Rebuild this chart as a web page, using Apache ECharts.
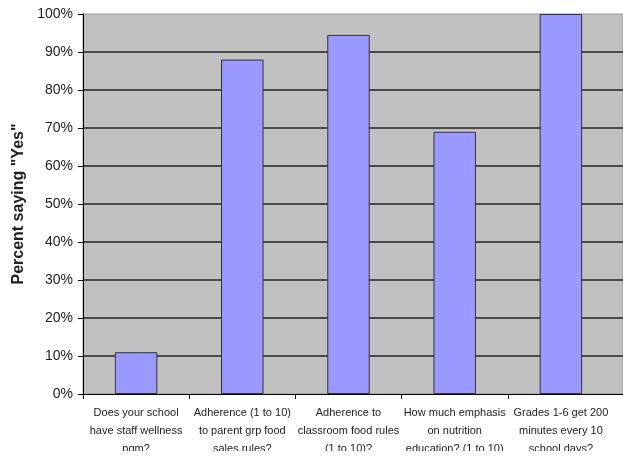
<!DOCTYPE html>
<html>
<head>
<meta charset="utf-8">
<script src="https://cdn.jsdelivr.net/npm/echarts@6/dist/echarts.min.js"></script>
<style>
html,body{margin:0;padding:0;background:#fff;}
#chart{width:623px;height:460px;}
</style>
</head>
<body>
<div id="chart"></div>
<script>
var categories = [
  "Does your school\nhave staff wellness\npgm?",
  "Adherence (1 to 10)\nto parent grp food\nsales rules?",
  "Adherence to\nclassroom food rules\n(1 to 10)?",
  "How much emphasis\non nutrition\neducation? (1 to 10)",
  "Grades 1-6 get 200\nminutes every 10\nschool days?"
];
var percentYes = [11, 88, 94.5, 69, 100];
var yTickMin = 0, yTickMax = 100, yTickStep = 10;
var yAxisTitle = 'Percent saying "Yes"';

var FONT = "'Liberation Sans', Arial, sans-serif";
var chart = echarts.init(document.getElementById('chart'), null, {renderer: 'canvas'});
chart.setOption({
  animation: false,
  backgroundColor: '#ffffff',
  grid: [
    {left: 83, right: -5, top: 14, bottom: 66, show: true,
     backgroundColor: '#C0C0C0', borderColor: '#999999', borderWidth: 1},
    {left: 83, right: 9, top: 14, bottom: 66}
  ],
  xAxis: [
    {gridIndex: 0, type: 'value', min: 0, max: 1, show: true,
     axisLine: {show: true, onZero: false, lineStyle: {color: '#000', width: 1}},
     axisTick: {show: false}, axisLabel: {show: false}, splitLine: {show: false}},
    {gridIndex: 1, type: 'category', data: categories,
     axisLine: {show: false},
     axisTick: {show: true, inside: false, length: 5, lineStyle: {color: '#000'}},
     axisLabel: {interval: 0, margin: 10, fontSize: 11, lineHeight: 18,
       color: '#222', fontFamily: FONT, align: 'center'}}
  ],
  yAxis: [
    {gridIndex: 0, type: 'value', min: yTickMin, max: yTickMax, interval: yTickStep,
     axisLine: {show: false}, axisTick: {show: false}, axisLabel: {show: false},
     splitLine: {show: true, showMaxLine: false, showMinLine: false,
       lineStyle: {color: '#222', width: 1.5}}},
    {gridIndex: 1, type: 'value', min: yTickMin, max: yTickMax, interval: yTickStep,
     axisLine: {show: true, lineStyle: {color: '#000', width: 1}},
     axisTick: {show: true, inside: false, length: 5, lineStyle: {color: '#000'}},
     splitLine: {show: false},
     axisLabel: {formatter: '{value}%', fontSize: 14, color: '#222', margin: 10, fontFamily: FONT},
     name: yAxisTitle, nameLocation: 'middle', nameRotate: 90, nameGap: 54,
     nameTextStyle: {fontSize: 16, fontWeight: 'bold', color: '#222', fontFamily: FONT}}
  ],
  series: [{
    type: 'bar', xAxisIndex: 1, yAxisIndex: 1, data: percentYes, barWidth: '40%',
    itemStyle: {color: '#9999FF', borderColor: '#333333', borderWidth: 1}
  }],
  graphic: [
    {type: 'rect', z: 100, silent: true,
     shape: {x: 0, y: 451, width: 623, height: 9}, style: {fill: '#ffffff'}},
    {type: 'rect', z: 100, silent: true,
     shape: {x: 610, y: 395, width: 8, height: 6}, style: {fill: '#ffffff'}}
  ]
});
</script>
</body>
</html>
